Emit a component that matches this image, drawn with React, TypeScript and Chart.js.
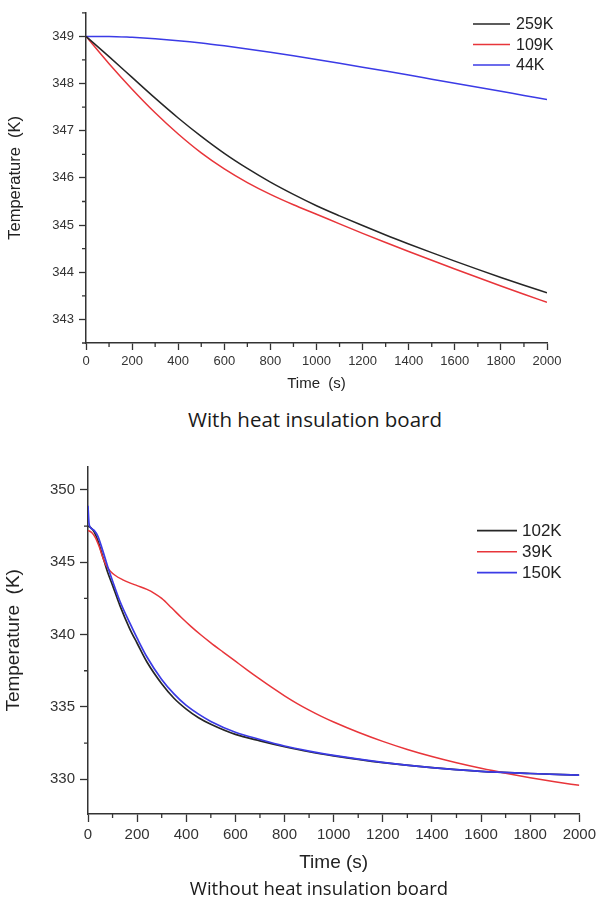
import React, { useEffect, useRef } from 'react';
import { Chart, registerables } from 'chart.js';
Chart.register(...registerables);

// ---------- Data: with heat insulation board ----------
const topTime = [0, 100, 200, 300, 400, 500, 600, 700, 800, 900, 1000, 1100, 1200, 1300, 1400, 1500, 1600, 1700, 1800, 1900, 2000];
const top259K = [349.0, 348.57, 348.13, 347.69, 347.27, 346.88, 346.52, 346.2, 345.91, 345.65, 345.41, 345.195, 344.99, 344.79, 344.6, 344.415, 344.235, 344.06, 343.89, 343.725, 343.565];
const top109K = [349.0, 348.42, 347.88, 347.38, 346.93, 346.53, 346.19, 345.9, 345.65, 345.43, 345.23, 345.025, 344.825, 344.63, 344.44, 344.253, 344.069, 343.888, 343.71, 343.535, 343.363];
const top44K = [349.0, 349.0, 348.98, 348.95, 348.91, 348.86, 348.8, 348.735, 348.665, 348.59, 348.51, 348.43, 348.348, 348.264, 348.179, 348.093, 348.007, 347.921, 347.835, 347.749, 347.663];
const topXTicks = [0, 200, 400, 600, 800, 1000, 1200, 1400, 1600, 1800, 2000];
const topYTicks = [343, 344, 345, 346, 347, 348, 349];

// ---------- Data: without heat insulation board ----------
const bot102KTime = [0, 10, 25, 40, 60, 80, 100, 130, 170, 200, 240, 300, 350, 400, 450, 500, 600, 700, 800, 900, 1000, 1200, 1400, 1600, 1800, 2000];
const bot102K = [347.5, 347.4, 347.1, 346.5, 345.4, 344.3, 343.4, 342.0, 340.4, 339.4, 338.1, 336.6, 335.6, 334.85, 334.25, 333.8, 333.1, 332.65, 332.25, 331.9, 331.62, 331.15, 330.8, 330.55, 330.4, 330.28];
const bot39KTime = [0, 15, 30, 45, 60, 75, 90, 110, 140, 170, 200, 240, 270, 300, 340, 380, 420, 460, 500, 550, 600, 650, 700, 750, 800, 850, 900, 950, 1000, 1100, 1200, 1300, 1400, 1500, 1600, 1700, 1800, 1900, 2000];
const bot39K = [347.2, 347.05, 346.7, 346.1, 345.35, 344.75, 344.4, 344.1, 343.8, 343.57, 343.38, 343.12, 342.85, 342.5, 341.85, 341.18, 340.55, 339.97, 339.43, 338.79, 338.16, 337.53, 336.92, 336.33, 335.77, 335.25, 334.78, 334.35, 333.96, 333.25, 332.62, 332.06, 331.57, 331.14, 330.76, 330.42, 330.11, 329.83, 329.58];
const bot150KTime = [0, 4, 10, 25, 40, 60, 80, 100, 130, 170, 200, 240, 300, 350, 400, 450, 500, 600, 700, 800, 900, 1000, 1200, 1400, 1600, 1800, 2000];
const bot150K = [348.9, 347.7, 347.4, 347.2, 346.8, 345.8, 344.7, 343.7, 342.3, 340.8, 339.75, 338.45, 336.9, 335.9, 335.1, 334.5, 334.0, 333.25, 332.75, 332.3, 331.95, 331.65, 331.17, 330.8, 330.55, 330.4, 330.28];
const botXTicks = [0, 200, 400, 600, 800, 1000, 1200, 1400, 1600, 1800, 2000];
const botYTicks = [330, 335, 340, 345, 350];

const BLACK = '#262626';
const RED = '#e8353a';
const BLUE = '#3b3be6';
const AXIS = '#333333';
const TICKFONT = "'Liberation Sans', Arial, sans-serif";

const pts = (xs: number[], ys: number[]) => xs.map((x, i) => ({ x, y: ys[i] }));

const lineLegend = {
  id: 'lineLegend',
  afterDraw(chart: any, _a: any, o: any) {
    const ctx = chart.ctx;
    ctx.save();
    ctx.font = o.font;
    ctx.textBaseline = 'middle';
    ctx.textAlign = 'left';
    chart.data.datasets.forEach((ds: any, i: number) => {
      const y = o.y + i * o.rowH;
      ctx.strokeStyle = ds.borderColor;
      ctx.lineWidth = ds.borderWidth;
      ctx.beginPath();
      ctx.moveTo(o.x, y);
      ctx.lineTo(o.x + o.len, y);
      ctx.stroke();
      ctx.fillStyle = o.color;
      ctx.fillText(ds.label, o.x + o.len + o.gap, y + 1);
    });
    ctx.restore();
  },
};

const minorTicks = {
  id: 'minorTicks',
  afterDraw(chart: any, _a: any, o: any) {
    const ctx = chart.ctx;
    const xs = chart.scales.x;
    const ys = chart.scales.y;
    ctx.save();
    ctx.strokeStyle = AXIS;
    ctx.lineWidth = 1.3;
    ctx.beginPath();
    const xMajor = xs.ticks.map((t: any) => t.value);
    for (let v = xs.min; v <= xs.max + 1e-6; v += o.xStep) {
      if (xMajor.some((m: number) => Math.abs(m - v) < 1e-6)) continue;
      const p = xs.getPixelForValue(v);
      ctx.moveTo(p, xs.top);
      ctx.lineTo(p, xs.top + o.len);
    }
    const yMajor = ys.ticks.map((t: any) => t.value);
    const start = Math.ceil(ys.min / o.yStep) * o.yStep;
    for (let v = start; v <= ys.max + 1e-6; v += o.yStep) {
      if (yMajor.some((m: number) => Math.abs(m - v) < 1e-6)) continue;
      const p = ys.getPixelForValue(v);
      ctx.moveTo(ys.right, p);
      ctx.lineTo(ys.right - o.len, p);
    }
    ctx.stroke();
    ctx.restore();
  },
};

function makeOptions(cfg: any) {
  return {
    responsive: false,
    animation: false,
    layout: { padding: cfg.padding },
    plugins: {
      legend: { display: false },
      tooltip: { enabled: false },
      lineLegend: cfg.legend,
      minorTicks: cfg.minor,
    },
    elements: { point: { radius: 0 }, line: { cubicInterpolationMode: 'monotone' } },
    scales: {
      x: {
        type: 'linear',
        min: 0,
        max: 2000,
        afterBuildTicks: (s: any) => { s.ticks = cfg.xTicks.map((v: number) => ({ value: v })); },
        afterFit: (s: any) => { s.height = cfg.xHeight; },
        grid: { drawOnChartArea: false, drawTicks: true, tickLength: cfg.tickLen, tickColor: AXIS, tickWidth: 1.3 },
        border: { display: true, color: AXIS, width: 1.5 },
        ticks: { color: '#333', font: { family: TICKFONT, size: cfg.tickSize }, padding: cfg.xTickPad, maxRotation: 0, autoSkip: false, callback: (v: any) => String(v) },
        title: { display: true, text: cfg.xTitle, color: '#222', font: { family: TICKFONT, size: cfg.xTitleSize }, padding: { top: 0, bottom: cfg.xTitlePad } },
      },
      y: {
        type: 'linear',
        min: cfg.yMin,
        max: cfg.yMax,
        afterBuildTicks: (s: any) => { s.ticks = cfg.yTicks.map((v: number) => ({ value: v })); },
        afterFit: (s: any) => { s.width = cfg.yWidth; },
        grid: { drawOnChartArea: false, drawTicks: true, tickLength: cfg.tickLen, tickColor: AXIS, tickWidth: 1.3 },
        border: { display: true, color: AXIS, width: 1.5 },
        ticks: { color: '#333', font: { family: TICKFONT, size: cfg.tickSize }, padding: 5, autoSkip: false, callback: (v: any) => String(v) },
        title: { display: true, text: 'Temperature  (K)', color: '#222', font: { family: TICKFONT, size: cfg.yTitleSize }, padding: { top: cfg.yTitlePad, bottom: 0 } },
      },
    },
  };
}

function TopChart() {
  const ref = useRef<HTMLCanvasElement>(null);
  useEffect(() => {
    const chart = new Chart(ref.current as HTMLCanvasElement, {
      type: 'line',
      data: {
        datasets: [
          { label: '259K', data: pts(topTime, top259K), borderColor: BLACK, borderWidth: 1.5 },
          { label: '109K', data: pts(topTime, top109K), borderColor: RED, borderWidth: 1.5 },
          { label: '44K', data: pts(topTime, top44K), borderColor: BLUE, borderWidth: 1.5 },
        ],
      },
      options: makeOptions({
        padding: { left: 0, top: 8, right: 53, bottom: 0 },
        legend: { x: 473, y: 24, rowH: 20.5, len: 37, gap: 6, font: `16px ${TICKFONT}`, color: '#222' },
        minor: { xStep: 100, yStep: 0.5, len: 4 },
        xTicks: topXTicks,
        yTicks: topYTicks,
        yMin: 342.5,
        yMax: 349.5,
        xHeight: 57,
        yWidth: 86,
        tickLen: 7,
        tickSize: 13,
        xTickPad: 4,
        xTitle: 'Time  (s)',
        xTitleSize: 15,
        yTitleSize: 16.5,
        xTitlePad: 7,
        yTitlePad: 6,
      }),
      plugins: [lineLegend, minorTicks],
    } as any);
    return () => chart.destroy();
  }, []);
  return <canvas ref={ref} width={600} height={400} style={{ position: 'absolute', left: 0, top: 0, width: 600, height: 400 }} />;
}

function BottomChart() {
  const ref = useRef<HTMLCanvasElement>(null);
  useEffect(() => {
    const chart = new Chart(ref.current as HTMLCanvasElement, {
      type: 'line',
      data: {
        datasets: [
          { label: '102K', data: pts(bot102KTime, bot102K), borderColor: BLACK, borderWidth: 1.7, order: 2 },
          { label: '39K', data: pts(bot39KTime, bot39K), borderColor: RED, borderWidth: 1.5, order: 1 },
          { label: '150K', data: pts(bot150KTime, bot150K), borderColor: BLUE, borderWidth: 1.7, order: 0 },
        ],
      },
      options: makeOptions({
        padding: { left: 0, top: 26.7, right: 19, bottom: 0 },
        legend: { x: 477, y: 90.7, rowH: 21, len: 40, gap: 5, font: `17px ${TICKFONT}`, color: '#222' },
        minor: { xStep: 100, yStep: 2.5, len: 4 },
        xTicks: botXTicks,
        yTicks: botYTicks,
        yMin: 327.6,
        yMax: 351.6,
        xHeight: 66,
        yWidth: 88,
        tickLen: 8,
        tickSize: 15,
        xTickPad: 4,
        xTitle: 'Time (s)',
        xTitleSize: 19,
        yTitleSize: 19,
        xTitlePad: 5.6,
        yTitlePad: 2.6,
      }),
      plugins: [lineLegend, minorTicks],
    } as any);
    return () => chart.destroy();
  }, []);
  return <canvas ref={ref} width={600} height={440} style={{ position: 'absolute', left: 0, top: 440, width: 600, height: 440 }} />;
}

const titleStyle: React.CSSProperties = {
  position: 'absolute',
  width: 600,
  textAlign: 'center',
  fontFamily: "'Open Sans', sans-serif",
  lineHeight: '24px',
  color: '#1a1a1a',
  whiteSpace: 'nowrap',
};

export default function App() {
  return (
    <div style={{ position: 'absolute', left: 0, top: 0, width: 600, height: 905, background: '#fff', overflow: 'hidden' }}>
      <TopChart />
      <div style={{ ...titleStyle, fontSize: 20.5, left: 15, top: 407 }}>With heat insulation board</div>
      <BottomChart />
      <div style={{ ...titleStyle, fontSize: 18.5, left: 19, top: 876 }}>Without heat insulation board</div>
    </div>
  );
}
